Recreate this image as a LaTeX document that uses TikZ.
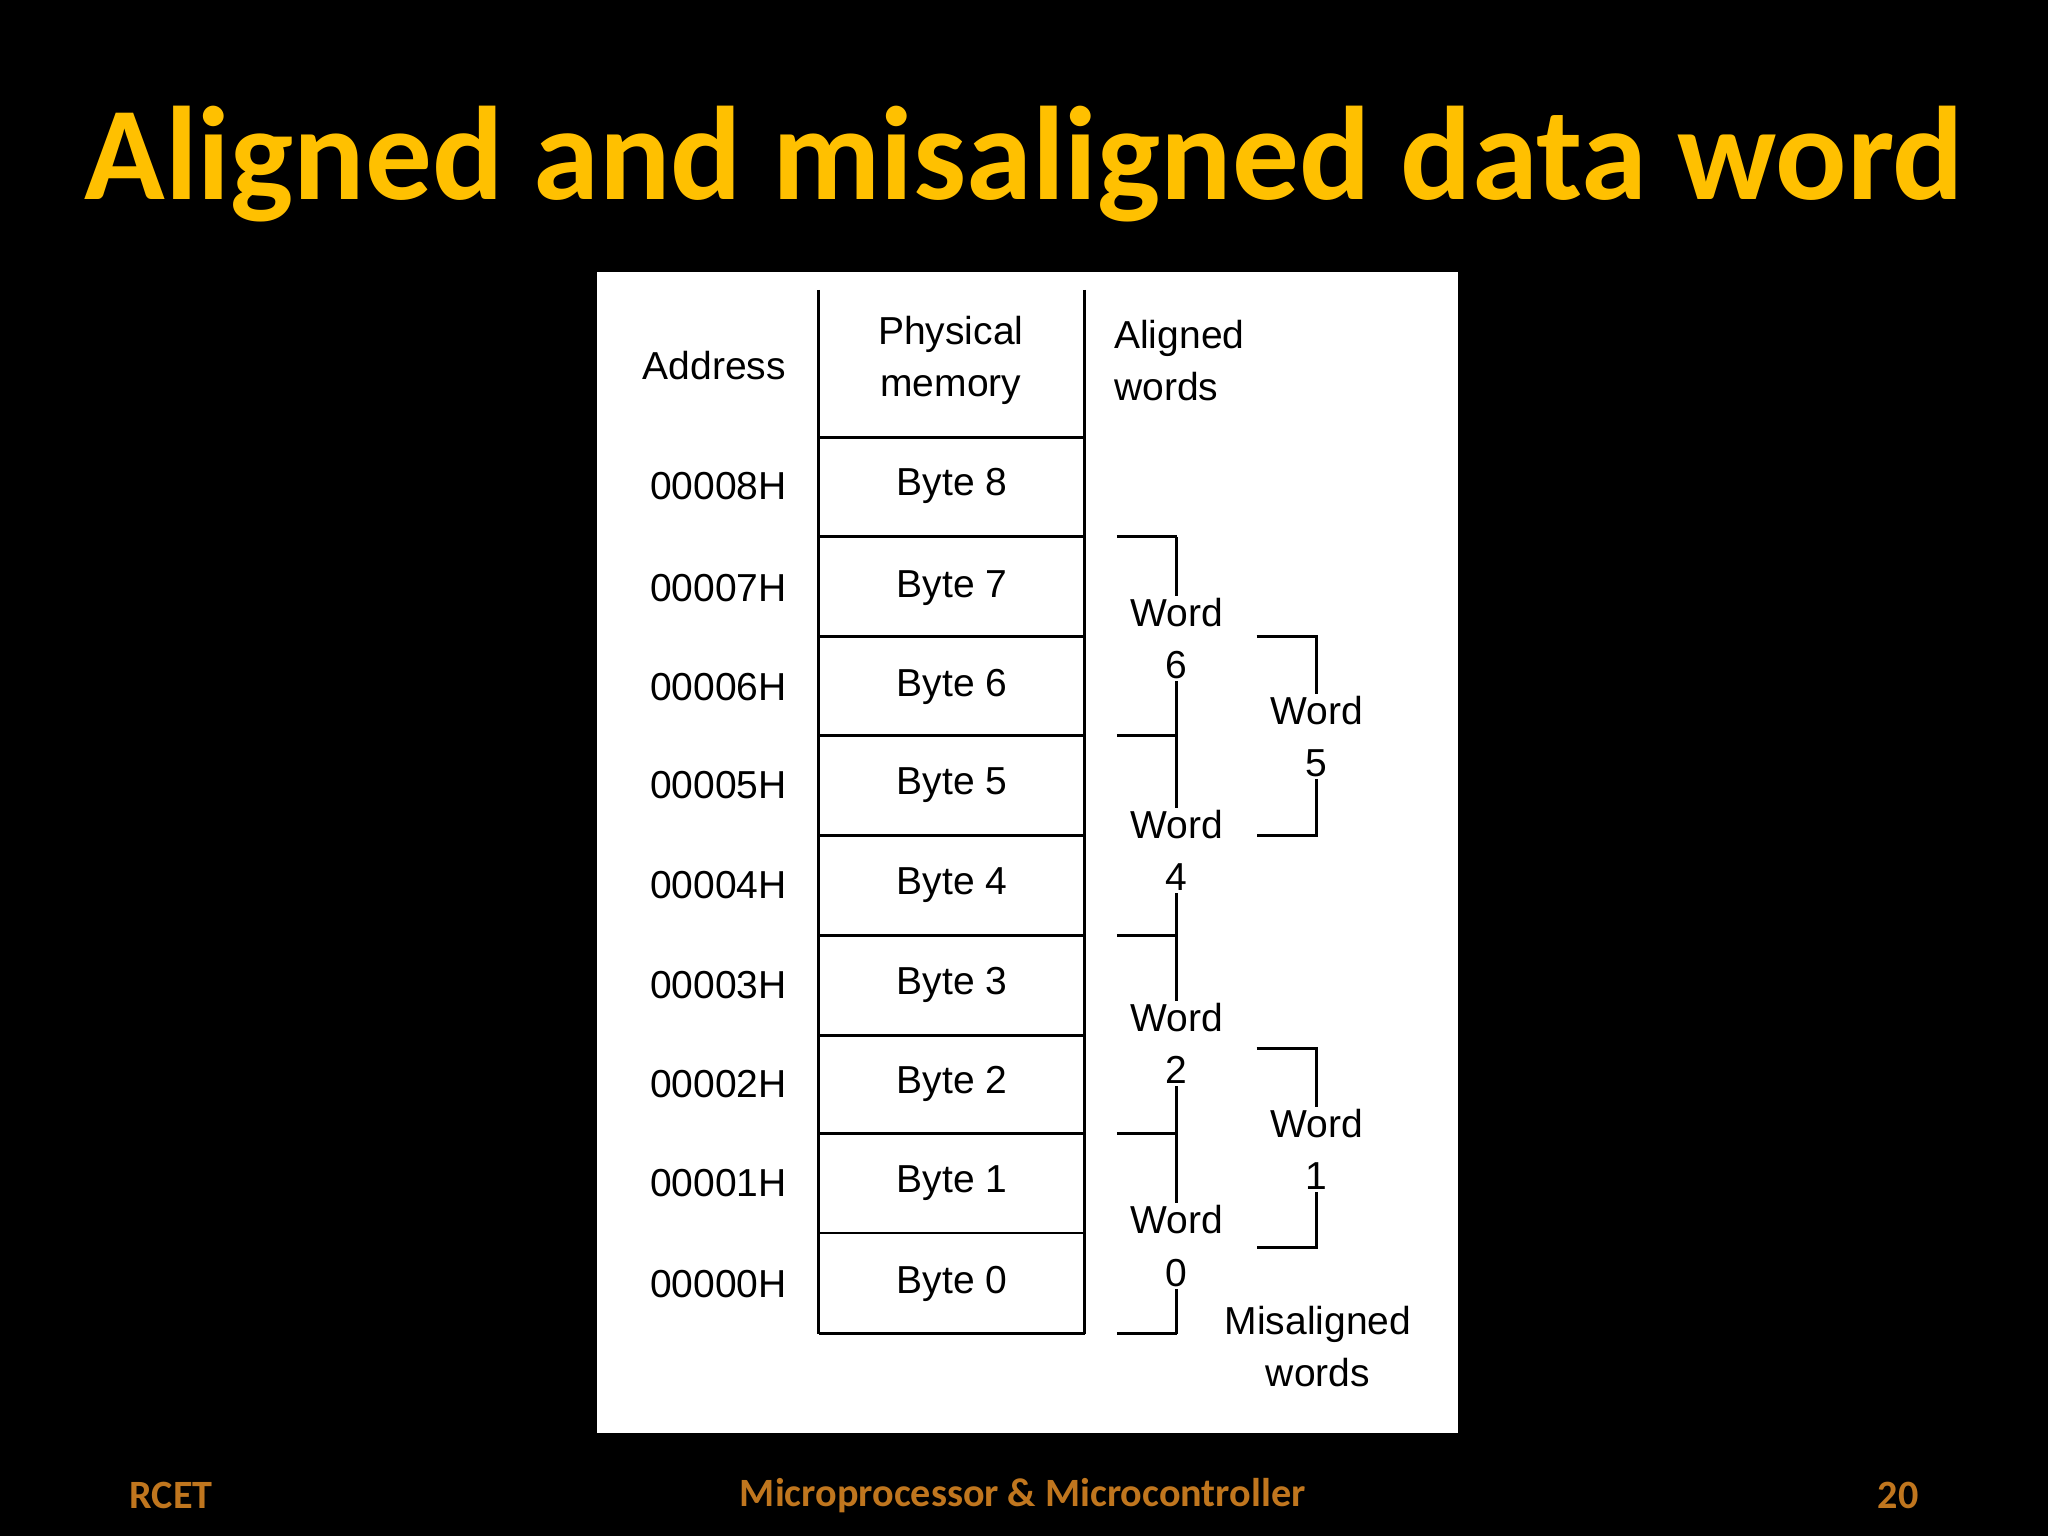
\documentclass[tikz,border=0pt]{standalone}
\usepackage{fontspec}
\setmainfont{Liberation Sans}
\newfontfamily\carlitofont{Carlito}
\definecolor{titl}{HTML}{FFC000}
\definecolor{foot}{HTML}{C0761E}
\begin{document}
\begin{tikzpicture}[x=0.02cm,y=-0.02cm,
  txt/.style={font=\fontsize{17}{22.7}\selectfont,align=center,inner sep=1pt},
  wlab/.style={txt,fill=white},
  ln/.style={line width=1.3pt,black}]
\fill[black] (0,0) rectangle (1568,1176);
\useasboundingbox (0,0) rectangle (1568,1176);
\node[titl,font=\carlitofont\bfseries\fontsize{58}{60}\selectfont] (title) at (784,126) {Aligned and misaligned data word};
\fill[white] (457,208) rectangle (1116,1097);
% table
\draw[ln] (627,222) -- (627,1021);
\draw[ln] (830,222) -- (830,1021);
\foreach \y in {335,411,487,563,640,716,793,868,944,1021} \draw[ln] (627,\y) -- (831,\y);
\node[txt] (addr) at (547,280) {Address};
\node[txt] (phys) at (728,276) {Physical\\memory};
\node[txt,align=left,anchor=west] (alig) at (851,276) {Aligned\\words};
\foreach \i/\y in {8/372,7/450,6/526,5/601,4/678,3/754,2/830,1/906,0/983}{
  \node[txt] (a\i) at (550,\y) {0000\i H};
  \node[txt] (b\i) at (729,\y) {Byte \i};
}
% aligned brackets
\draw[ln] (901,411) -- (901,1021);
\foreach \y in {411,563,716,868,1021} \draw[ln] (855,\y) -- (901,\y);
\node[wlab] (w6) at (901,489) {Word\\6};
\node[wlab] (w4) at (901,651) {Word\\4};
\node[wlab] (w2) at (901,799) {Word\\2};
\node[wlab] (w0) at (901,954) {Word\\0};
% misaligned
\draw[ln] (962,487) -- (1008,487) -- (1008,640) -- (962,640);
\draw[ln] (962,803) -- (1008,803) -- (1008,955) -- (962,955);
\node[wlab] (w5) at (1008,564) {Word\\5};
\node[wlab] (w1) at (1008,880) {Word\\1};
\node[txt] (mis) at (1009,1031) {Misaligned\\words};
% footer
\node[foot,font=\carlitofont\bfseries\fontsize{17.5}{20}\selectfont,anchor=west] (f1) at (93,1145) {RCET};
\node[foot,font=\carlitofont\bfseries\fontsize{17.5}{20}\selectfont] (f2) at (783,1145) {Microprocessor \& Microcontroller};
\node[foot,font=\carlitofont\bfseries\fontsize{17.5}{20}\selectfont,anchor=east] (f3) at (1475,1145) {20};
\end{tikzpicture}
\end{document}
